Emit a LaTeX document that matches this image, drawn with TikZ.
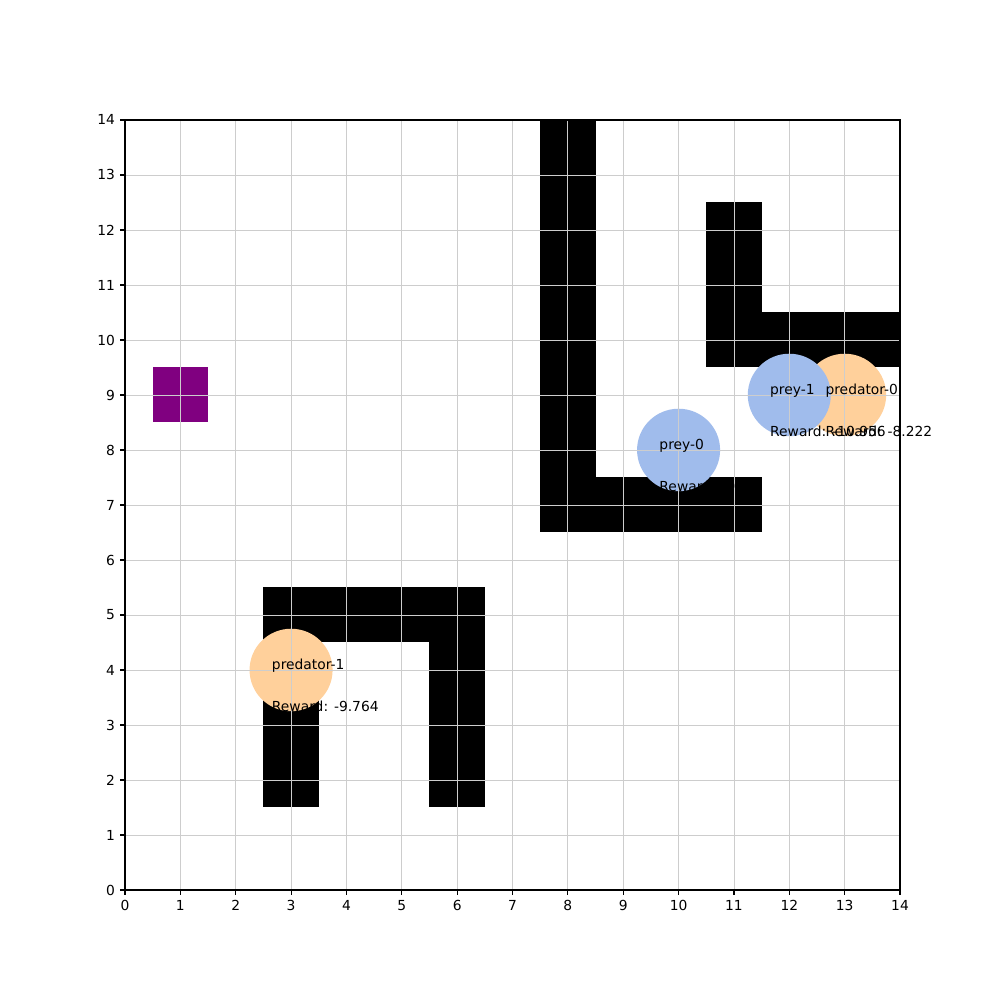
\documentclass[tikz,border=0pt]{standalone}
\usepackage{fontspec}
\setmainfont{DejaVu Sans}
\definecolor{preyc}{RGB}{160,188,236}
\definecolor{predc}{RGB}{255,208,155}
\definecolor{gridc}{RGB}{205,205,205}
\definecolor{goalc}{RGB}{128,0,128}
\tikzset{
  wall/.style={fill=black},
  agentlbl/.style={anchor=base west, inner sep=0pt, font=\fontsize{10}{12}\selectfont},
  ticklbl/.style={font=\fontsize{10}{12}\selectfont, inner sep=0pt},
  gridln/.style={gridc, line width=0.55pt},
}
\begin{document}
\begin{tikzpicture}
\useasboundingbox[fill=white] (0,0) rectangle (722.7pt,722.7pt);
\begin{scope}[shift={(90.34pt,79.5pt)}, x=40.007pt, y=39.75pt]
  \begin{scope}
    \clip (0,0) rectangle (14,14);
    % walls
    \foreach \c/\r in {8/7,8/8,8/9,8/10,8/11,8/12,8/13,8/14,9/7,10/7,11/7,
                       11/10,11/11,11/12,12/10,13/10,14/10,
                       3/2,3/3,3/4,3/5,4/5,5/5,6/5,6/4,6/3,6/2}
      \fill[wall] (\c-0.5,\r-0.5) rectangle (\c+0.5,\r+0.5);
    % goal
    \fill[goalc] (0.5,8.5) rectangle (1.5,9.5);
    % agents
    \fill[predc] (13,9) circle [radius=0.75];
    \fill[predc] (3,4) circle [radius=0.75];
    \fill[preyc] (10,8) circle [radius=0.75];
    \fill[preyc] (12,9) circle [radius=0.75];
    % grid
    \foreach \i in {1,...,13} {
      \draw[gridln] (\i,0) -- (\i,14);
      \draw[gridln] (0,\i) -- (14,\i);
    }
  \end{scope}
  % labels
  \node[agentlbl] (p0) at (12.65,9) {predator-0};
  \node[agentlbl] (p0r) at (12.65,8.25) {Reward: -8.222};
  \node[agentlbl] (p1) at (2.65,4) {predator-1};
  \node[agentlbl] (p1r) at (2.65,3.25) {Reward: -9.764};
  \node[agentlbl] (y0) at (9.65,8) {prey-0};
  \node[agentlbl] (y0r) at (9.65,7.25) {Reward: -9.12};
  \node[agentlbl] (y1) at (11.65,9) {prey-1};
  \node[agentlbl] (y1r) at (11.65,8.25) {Reward: -10.956};
  % frame
  \draw[line width=0.8pt] (0,0) rectangle (14,14);
  % ticks
  \foreach \i in {0,...,14} {
    \draw[line width=0.8pt] (\i,0) -- ++(0,-3.5pt);
    \node[ticklbl, anchor=north] (xt\i) at ([yshift=-7pt]\i,0) {\i};
    \draw[line width=0.8pt] (0,\i) -- ++(-3.5pt,0);
    \node[ticklbl, anchor=east] (yt\i) at ([xshift=-7pt]0,\i) {\i};
  }
\end{scope}
\end{tikzpicture}
\end{document}
